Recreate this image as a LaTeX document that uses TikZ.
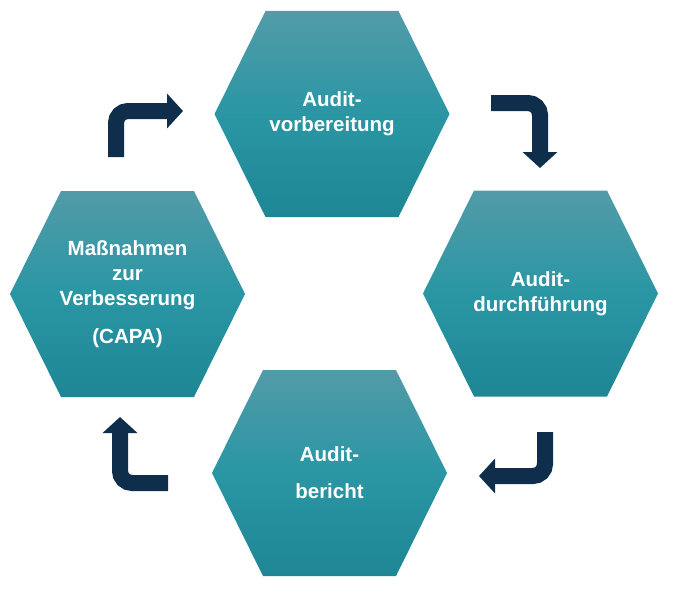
\documentclass[tikz,border=0pt]{standalone}
\usepackage{fontspec}
\setmainfont{Liberation Sans}
\usetikzlibrary{arrows.meta}
\definecolor{hextop}{RGB}{82,155,168}
\definecolor{hexmid}{RGB}{42,150,164}
\definecolor{hexbot}{RGB}{30,134,148}
\definecolor{navy}{RGB}{14,46,76}

% one hexagon round a named centre
\newcommand{\hexat}[1]{%
  \path[hexa] (#1) ++(-66.5,-103) -- ++(133,0) -- ++(51,103) -- ++(-51,103)
    -- ++(-133,0) -- ++(-51,-103) -- cycle;}

\begin{document}
\begin{tikzpicture}[x=1pt, y=-1pt,
  hexa/.style = {top color=hextop, bottom color=hexbot, middle color=hexmid},
  lbl/.style = {text=white, align=center, font=\bfseries\fontsize{20.5}{25}\selectfont},
  bendarrow/.style = {navy, line width=16pt, rounded corners=12pt,
    -{Triangle[length=16pt, width=34pt]}}]
\useasboundingbox (0,0) rectangle (677,594);
%\draw [very thin, gray] (0,0) grid[step=50] (677,594);

% centres of the four steps
\coordinate (vorb) at (332,114);
\coordinate (durch) at (540.5,293.5);
\coordinate (ber) at (329.5,473);
\coordinate (capa) at (127.5,294);

\hexat{vorb}
\hexat{durch}
\hexat{ber}
\hexat{capa}

\node[lbl] (vorbtxt) at (vorb) {Audit-\\vorbereitung};
\node[lbl] (durchtxt) at (durch) {Audit-\\durchführung};
\node[lbl] (bertxt) at (ber) {Audit-\\[12pt]bericht};
\node[lbl] (capatxt) at (capa) {Maßnahmen\\zur\\Verbesserung\\[13pt](CAPA)};

% bent arrows between the steps
\coordinate (a1) at (116,157);
\coordinate (a1e) at (183,111);
\coordinate (a2) at (491,103);
\coordinate (a2e) at (540,168);
\coordinate (a3) at (545,432);
\coordinate (a3e) at (479,476);
\coordinate (a4) at (168,483);
\coordinate (a4e) at (120,417);
\draw[bendarrow] (a1) |- (a1e);
\draw[bendarrow] (a2) -| (a2e);
\draw[bendarrow] (a3) |- (a3e);
\draw[bendarrow] (a4) -| (a4e);
\end{tikzpicture}
\end{document}
